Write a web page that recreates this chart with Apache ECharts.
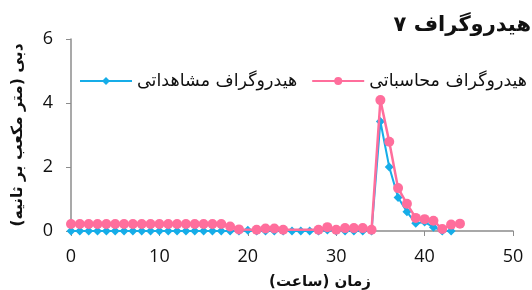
<!DOCTYPE html>
<html>
<head>
<meta charset="utf-8">
<script src="https://cdn.jsdelivr.net/npm/echarts@6/dist/echarts.min.js"></script>
<style>
  html, body { margin: 0; padding: 0; background: #fff; }
  #main { width: 532px; height: 290px; }
</style>
</head>
<body>
<div id="main"></div>
<script>
// hours (x) and discharge values
const hoursObs = [0,1,2,3,4,5,6,7,8,9,10,11,12,13,14,15,16,17,18,19,20,21,22,23,24,25,26,27,28,29,30,31,32,33,34,35,36,37,38,39,40,41,42,43];
const observed = [0,0,0,0,0,0,0,0,0,0,0,0,0,0,0,0,0,0,0,0,0.02,0,0,0,0,0,0,0,0,0.03,0,0,0,0,0,3.42,2.0,1.05,0.6,0.24,0.28,0.12,0,0];

const hoursCalc = [0,1,2,3,4,5,6,7,8,9,10,11,12,13,14,15,16,17,18,19,20,21,22,23,24,25,26,27,28,29,30,31,32,33,34,35,36,37,38,39,40,41,42,43,44];
const calculated = [0.22,0.22,0.22,0.22,0.22,0.22,0.22,0.22,0.22,0.22,0.22,0.22,0.22,0.22,0.22,0.22,0.22,0.22,0.14,0.05,null,0.04,0.08,0.08,0.04,null,null,null,0.04,0.12,0.04,0.09,0.09,0.09,0.04,4.09,2.79,1.34,0.85,0.41,0.37,0.32,0.06,0.2,0.23];

const xTicks = { min: 0, max: 50, interval: 10 };
const yTicks = { min: 0, max: 6, interval: 2 };

const titleText = 'هیدروگراف ۷';
const obsName = 'هیدروگراف مشاهداتی';
const calcName = 'هیدروگراف محاسباتی';
const RLM = '\u200F';

const chart = echarts.init(document.getElementById('main'));

const tickFont = { fontFamily: '"Open Sans", sans-serif', fontSize: 18, color: '#111' };
const faFont = '"DejaVu Sans", sans-serif';

chart.setOption({
  animation: false,
  title: {
    text: titleText,
    right: -4,
    top: 10,
    textStyle: { fontFamily: faFont, fontSize: 21, fontWeight: 'bold', color: '#111' }
  },
  legend: {
    left: 74,
    top: 67,
    width: 458,
    itemWidth: 52,
    itemHeight: 10,
    itemGap: 14,
    textStyle: { fontFamily: faFont, fontSize: 17.5, color: '#111' },
    data: [obsName, calcName]
  },
  grid: { left: 71, right: 19, top: 39, bottom: 59, outerBoundsMode: 'none' },
  xAxis: {
    type: 'value',
    min: xTicks.min,
    max: xTicks.max,
    interval: xTicks.interval,
    name: RLM + 'زمان (ساعت)' + RLM,
    nameLocation: 'middle',
    nameGap: 44,
    nameTextStyle: { fontFamily: faFont, fontSize: 15, fontWeight: 'bold', color: '#111', padding: [0, 0, 0, 56] },
    axisLine: { lineStyle: { color: '#8c8c8c', width: 1.5 } },
    axisTick: { show: true, length: 5, lineStyle: { color: '#8c8c8c' } },
    axisLabel: Object.assign({ margin: 17 }, tickFont),
    splitLine: { show: false }
  },
  yAxis: {
    type: 'value',
    min: yTicks.min,
    max: yTicks.max,
    interval: yTicks.interval,
    name: RLM + 'دبی (متر مکعب بر ثانیه)' + RLM,
    nameLocation: 'middle',
    nameRotate: 90,
    nameGap: 45,
    nameTextStyle: { fontFamily: faFont, fontSize: 15.5, fontWeight: 'bold', color: '#111' },
    axisLine: { show: true, lineStyle: { color: '#8c8c8c', width: 1.5 } },
    axisTick: { show: true, length: 5, lineStyle: { color: '#8c8c8c' } },
    axisLabel: Object.assign({ margin: 18 }, tickFont),
    splitLine: { show: false }
  },
  series: [
    {
      name: obsName,
      type: 'line',
      data: hoursObs.map((h, i) => [h, observed[i]]),
      symbol: 'diamond',
      symbolSize: 9,
      color: '#16ade8',
      lineStyle: { width: 2 },
      z: 2
    },
    {
      name: calcName,
      type: 'line',
      data: hoursCalc.map((h, i) => [h, calculated[i]]),
      connectNulls: true,
      symbol: 'circle',
      symbolSize: 10,
      color: '#ff6e9c',
      lineStyle: { width: 2.5 },
      z: 3
    }
  ]
});
</script>
</body>
</html>
